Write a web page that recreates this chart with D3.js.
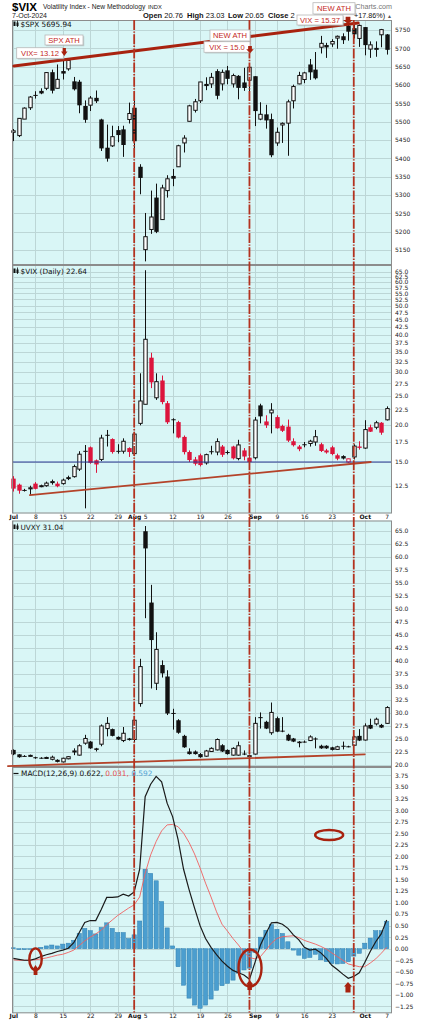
<!DOCTYPE html>
<html><head><meta charset="utf-8">
<script src="https://cdn.jsdelivr.net/npm/d3@7/dist/d3.min.js"></script>
<style>html,body{margin:0;padding:0;background:#fff;}svg{display:block;}</style>
</head><body>
<svg id="chart" width="422" height="1024"></svg>
<script>
// ---------------- DATA ----------------
const dates = ["2024-07-01","2024-07-02","2024-07-03","2024-07-05","2024-07-08","2024-07-09","2024-07-10","2024-07-11","2024-07-12","2024-07-15","2024-07-16","2024-07-17","2024-07-18","2024-07-19","2024-07-22","2024-07-23","2024-07-24","2024-07-25","2024-07-26","2024-07-29","2024-07-30","2024-07-31",
"2024-08-01","2024-08-02","2024-08-05","2024-08-06","2024-08-07","2024-08-08","2024-08-09","2024-08-12","2024-08-13","2024-08-14","2024-08-15","2024-08-16","2024-08-19","2024-08-20","2024-08-21","2024-08-22","2024-08-23","2024-08-26","2024-08-27","2024-08-28","2024-08-29","2024-08-30",
"2024-09-03","2024-09-04","2024-09-05","2024-09-06","2024-09-09","2024-09-10","2024-09-11","2024-09-12","2024-09-13","2024-09-16","2024-09-17","2024-09-18","2024-09-19","2024-09-20","2024-09-23","2024-09-24","2024-09-25","2024-09-26","2024-09-27","2024-09-30",
"2024-10-01","2024-10-02","2024-10-03","2024-10-04","2024-10-07"];

const spxOpen = [5471,5462,5507,5538,5573,5584,5591,5635,5591,5638,5644,5610,5609,5543,5545,5565,5506,5429,5434,5477,5479,5506,
5538,5377,5151,5206,5293,5233,5312,5352,5377,5442,5501,5531,5557,5603,5603,5638,5603,5640,5603,5625,5607,5613,
5624,5507,5520,5507,5442,5491,5496,5557,5603,5615,5656,5642,5703,5709,5712,5728,5733,5762,5755,5727,
5758,5698,5699,5737,5738];
const spxHigh = [5480,5510,5539,5570,5583,5591,5635,5642,5656,5667,5670,5622,5614,5558,5570,5585,5508,5492,5489,5488,5489,5552,
5566,5384,5251,5312,5331,5328,5354,5371,5437,5463,5546,5562,5608,5621,5633,5643,5642,5652,5631,5627,5647,5651,
5624,5553,5546,5522,5484,5498,5560,5601,5636,5636,5671,5690,5734,5715,5725,5735,5741,5767,5764,5765,
5758,5719,5719,5753,5739];
const spxLow = [5447,5458,5507,5532,5563,5575,5586,5577,5590,5615,5639,5585,5523,5497,5529,5551,5420,5391,5431,5444,5404,5495,
5410,5302,5119,5194,5196,5232,5293,5324,5377,5416,5501,5525,5551,5586,5592,5561,5585,5602,5593,5561,5584,5582,
5488,5504,5481,5403,5434,5442,5407,5536,5602,5605,5614,5615,5686,5674,5704,5699,5712,5721,5727,5704,
5681,5674,5677,5703,5683];
const spxClose = [5475.1,5509.0,5537.0,5567.2,5572.9,5577.0,5633.9,5584.5,5615.4,5631.2,5667.2,5588.3,5544.6,5505.0,5564.4,5555.7,5427.1,5399.2,5459.1,5463.5,5436.4,5522.3,
5446.7,5346.6,5186.3,5240.0,5199.5,5319.3,5344.2,5344.4,5434.4,5455.2,5543.2,5554.3,5608.3,5597.1,5620.9,5570.6,5634.6,5616.8,5625.8,5592.2,5592.0,5648.4,
5528.9,5520.1,5503.4,5408.4,5471.1,5495.5,5554.1,5595.8,5626.0,5633.1,5634.6,5618.3,5713.6,5702.6,5718.6,5732.9,5722.3,5745.4,5738.2,5762.5,
5708.8,5709.5,5699.9,5751.1,5695.9];

const vixOpen = [13.2,12.6,12.1,12.2,12.7,12.45,12.5,12.85,12.7,12.7,13.35,13.4,14.2,16.35,16.8,15.2,15.3,18.5,17.9,16.35,16.3,16.7,
16.0,20.2,23.4,33.5,24.6,28.1,23.6,20.85,20.4,18.2,16.2,15.3,15.8,14.9,16.3,16.2,16.9,16.2,16.9,15.4,16.4,15.5,
15.5,23.2,20.5,21.9,21.2,19.8,19.7,17.6,16.9,17.2,17.3,17.5,17.2,16.4,16.8,15.8,15.7,15.0,15.6,16.9,
16.7,19.6,19.6,20.3,20.76];
const vixHigh = [13.45,12.7,12.2,12.5,12.85,12.6,12.9,13.1,12.9,13.2,13.5,14.7,16.3,17.1,16.9,15.3,18.5,19.2,18.0,17.2,18.0,16.8,
18.9,29.7,65.7,34.8,29.7,29.2,24.0,21.0,20.6,18.4,16.4,15.6,16.0,16.0,17.0,18.0,17.1,16.4,17.0,17.8,16.7,16.0,
21.2,23.5,21.5,23.6,21.5,20.0,20.8,18.0,17.1,17.5,17.8,19.2,17.4,16.6,17.0,16.0,15.8,15.4,17.2,17.6,
20.7,20.0,20.6,20.4,23.03];
const vixLow = [11.95,11.75,11.95,11.65,12.15,12.35,12.4,12.6,12.35,12.6,13.05,13.3,14.0,10.5,14.8,13.8,15.1,16.9,16.0,16.0,16.0,15.6,
15.8,19.9,23.4,26.5,24.2,23.4,20.1,18.7,18.0,15.9,15.0,14.6,14.5,14.7,15.9,15.8,15.6,15.9,15.3,15.2,15.2,14.9,
15.3,20.2,19.5,18.7,19.4,18.9,17.5,16.9,16.3,16.8,16.9,17.0,16.2,16.0,15.8,15.2,15.3,14.9,15.3,16.5,
16.6,18.9,19.3,18.5,20.65];
const vixClose = [12.22,12.03,12.05,12.3,12.2,12.5,12.75,12.9,12.45,13.05,13.15,14.48,15.93,16.3,14.91,14.72,18.04,18.46,16.2,16.3,17.6,16.2,
18.6,24.0,38.6,27.7,27.85,23.8,20.37,20.71,18.12,16.19,15.23,14.8,14.65,15.88,16.27,17.55,15.86,16.15,15.43,17.11,15.65,15.0,
20.72,21.32,19.9,22.38,19.45,19.08,17.69,17.07,16.56,17.14,17.61,18.23,16.33,16.15,15.95,15.39,15.41,15.37,16.96,16.73,
19.26,18.95,20.3,18.8,22.64];

const uvxyOpen = [22.9,22.05,21.75,21.8,21.5,21.4,21.35,21.1,21.0,20.6,21.2,22.6,21.9,24.2,24.5,23.2,24.0,27.0,26.9,25.4,24.7,25.1,
24.9,31.8,64.9,51.2,35.7,39.2,37.0,30.0,28.6,25.6,22.6,22.6,22.1,21.7,22.6,22.9,23.8,22.9,21.9,21.9,22.2,21.9,
22.1,29.2,28.3,26.2,29.0,26.6,25.8,25.1,24.5,24.5,24.7,25.1,23.7,23.7,23.4,23.0,23.7,23.6,23.8,25.6,
24.8,27.7,27.9,27.7,28.0];
const uvxyHigh = [23.0,22.1,21.9,22.0,21.6,21.5,21.6,21.8,21.1,21.4,21.7,23.2,24.0,25.8,24.6,23.3,27.8,29.2,27.0,25.5,27.3,25.2,
29.0,40.4,65.9,54.6,45.5,40.1,38.2,30.8,28.8,25.8,23.2,22.8,22.3,22.9,23.4,25.1,24.0,23.0,23.4,24.5,22.8,22.0,
29.2,30.1,28.5,32.0,29.3,29.2,26.0,25.2,24.6,24.7,25.7,25.3,23.9,23.8,23.5,23.7,24.5,23.7,25.6,26.9,
28.0,28.9,29.1,27.9,31.3];
const uvxyLow = [21.9,21.4,21.6,21.6,21.2,21.2,21.2,20.9,20.5,20.5,21.1,21.9,21.8,23.9,23.1,22.6,23.6,25.5,25.5,24.8,24.4,24.7,
24.4,31.2,48.2,34.7,34.4,36.8,29.6,26.8,26.0,23.3,22.0,22.0,21.4,21.6,22.5,22.8,22.5,22.0,21.8,21.8,21.9,21.4,
22.0,27.0,26.9,25.8,26.3,26.3,24.6,24.4,23.4,24.3,24.6,23.2,23.1,23.1,22.8,22.9,23.0,23.4,23.7,24.6,
24.7,26.9,27.6,27.1,27.9];
const uvxyClose = [22.05,21.5,21.7,21.85,21.3,21.35,21.45,21.5,20.6,21.3,21.6,22.7,23.7,25.1,23.2,22.9,27.5,28.0,25.6,24.9,26.1,24.8,
28.6,38.9,61.6,44.0,42.2,37.6,29.9,29.85,26.2,23.4,22.1,22.1,21.5,22.7,23.2,24.9,22.6,22.1,23.2,23.7,22.2,21.5,
28.0,29.0,27.0,30.1,26.4,26.45,24.7,24.5,24.2,24.45,25.4,25.05,23.2,23.2,22.9,23.5,23.65,23.55,25.4,24.7,
27.5,27.0,28.8,27.2,31.04];

const macdLine = [-0.21,-0.23,-0.25,-0.25,-0.22,-0.17,-0.13,-0.10,-0.06,-0.03,0.01,0.13,0.35,0.57,0.61,0.61,0.85,1.11,1.11,1.12,1.18,1.14,1.23,
1.72,3.29,3.56,3.73,3.61,3.15,2.86,2.36,1.72,1.28,0.88,0.50,0.22,0.03,-0.13,-0.27,-0.38,-0.47,-0.52,-0.57,-0.66,
-0.30,0.08,0.33,0.56,0.57,0.53,0.44,0.30,0.19,0.03,-0.03,-0.01,-0.09,-0.21,-0.36,-0.45,-0.55,-0.64,-0.60,-0.52,-0.30,-0.06,0.15,0.32,0.62];
const macdSignal = [-0.24,-0.25,-0.25,-0.25,-0.24,-0.22,-0.20,-0.17,-0.14,-0.12,-0.08,-0.03,0.07,0.17,0.25,0.32,0.40,0.52,0.62,0.72,0.80,0.88,0.95,
1.12,1.63,2.03,2.32,2.55,2.68,2.69,2.64,2.50,2.30,2.05,1.75,1.42,1.12,0.80,0.53,0.38,0.22,0.08,-0.08,-0.19,
-0.22,-0.17,-0.03,0.12,0.22,0.26,0.27,0.28,0.24,0.18,0.14,0.10,0.05,-0.01,-0.09,-0.17,-0.25,-0.33,-0.36,-0.39,-0.39,-0.31,-0.22,-0.10,0.03];
const macdHist = [0.02,-0.02,-0.02,0.00,0.01,0.03,0.06,0.08,0.06,0.10,0.12,0.18,0.33,0.44,0.39,0.32,0.46,0.56,0.44,0.35,0.35,0.22,0.30,
0.60,1.72,1.63,1.47,1.02,0.45,0.06,-0.39,-0.79,-1.07,-1.22,-1.29,-1.22,-1.09,-0.90,-0.80,-0.75,-0.68,-0.53,-0.46,-0.42,
-0.08,0.25,0.40,0.52,0.42,0.33,0.15,-0.03,-0.14,-0.21,-0.19,-0.12,-0.24,-0.28,-0.32,-0.33,-0.32,-0.28,-0.16,-0.10,0.12,0.23,0.39,0.39,0.59];

const spxTicks = [5150,5200,5250,5300,5350,5400,5450,5500,5550,5600,5650,5700,5750];
const vixTicks = [12.5,15,17.5,20,22.5,25,27.5,30,32.5,35,37.5,40,42.5,45,47.5,50,52.5,55,57.5,60,62.5,65];
const uvxyTicks = [20,22.5,25,27.5,30,32.5,35,37.5,40,42.5,45,47.5,50,52.5,55,57.5,60,62.5,65];
const macdTicks = [-1.25,-1,-0.75,-0.5,-0.25,0,0.25,0.5,0.75,1,1.25,1.5,1.75,2,2.25,2.5,2.75,3,3.25,3.5,3.75];

const dateTickIdx = [0,4,9,14,19,22,24,29,34,39,44,48,53,58,64,68];
const dateTickLabels = ["Jul","8","15","22","29","Aug","5","12","19","26","Sep","9","16","23","Oct","7"];
const monthTickIdx = [0,22,44,64];
const gridIdx = [0,4,9,14,19,22,29,34,39,44,48,53,58,64];
const markerIdx = [22,43,62];   // Aug 1, Aug 30, Sep 27

// trend lines / levels (index, value)
const spxTrend = [[0.1,5652],[62.8,5769]];
const vixTrend = [[3.0,11.63],[65.1,15.0]];
const uvxyTrend = [[-1.0,19.8],[64.0,22.05]];
const vixLevel = 15.0;

// ---------------- LAYOUT ----------------
const svg = d3.select('#chart');
const L = 12, R = 392;
const BG = '#d9f6f6', GRID = '#bcd6d6', FRAME = '#8c8c8c';
const RED = '#dc143c', DARKRED = '#a8220f';
const SANS = 'Liberation Sans, Arial, sans-serif', DV = 'DejaVu Sans, Verdana, sans-serif';

const xi = d3.scaleLinear().domain([0, dates.length-1]).range([13.4, 386.7]);

const P = {
  spx:  {top:20,    bottom:265,    y:d3.scaleLinear().domain([5109.1,5777.3]).range([265,20])},
  vix:  {top:265,   bottom:513.5,  y:d3.scaleLog().domain([10.09,68.4]).range([513.5,265])},
  uvxy: {top:520.5, bottom:767,    y:d3.scaleLinear().domain([19.62,66.96]).range([767,520.5])},
  macd: {top:767,   bottom:1013.3, y:d3.scaleLinear().domain([-1.398,3.933]).range([1013.3,767])}
};

function drawPanel(p, ticks, fmt){
  const g = svg.append('g');
  g.append('rect').attr('x',L).attr('y',p.top).attr('width',R-L).attr('height',p.bottom-p.top).attr('fill',BG);
  g.append('g').selectAll('line').data(ticks).join('line')
    .attr('x1',L).attr('x2',R).attr('y1',d=>Math.round(p.y(d))+0.5).attr('y2',d=>Math.round(p.y(d))+0.5)
    .attr('stroke',GRID).attr('stroke-width',1);
  g.append('g').selectAll('line').data(gridIdx).join('line')
    .attr('x1',d=>Math.round(xi(d))+0.5).attr('x2',d=>Math.round(xi(d))+0.5).attr('y1',p.top).attr('y2',p.bottom)
    .attr('stroke',GRID).attr('stroke-width',1);
  const ax = d3.axisRight(p.y).tickValues(ticks).tickFormat(fmt).tickSize(0).tickPadding(3);
  const ag = g.append('g').attr('transform',`translate(${R},0)`).call(ax);
  ag.select('.domain').remove();
  ag.selectAll('text').attr('font-family',DV).attr('font-size',6).attr('fill','#222');
  return g;
}
function frame(p){
  svg.append('rect').attr('x',L+0.5).attr('y',p.top+0.5).attr('width',R-L-1).attr('height',p.bottom-p.top-1)
    .attr('fill','none').attr('stroke',FRAME).attr('stroke-width',1);
}

function candles(g, y, O, H, Lo, C, colorFn, bw){
  const idx = d3.range(dates.length);
  const cg = g.append('g');
  cg.selectAll('line').data(idx).join('line')
    .attr('x1',i=>Math.round(xi(i))+0.5).attr('x2',i=>Math.round(xi(i))+0.5)
    .attr('y1',i=>y(H[i])).attr('y2',i=>y(Lo[i]))
    .attr('stroke',i=>colorFn(i)).attr('stroke-width',1);
  cg.selectAll('rect').data(idx).join('rect')
    .each(function(i){
      const cx = Math.round(xi(i))+0.5;
      const top = y(Math.max(O[i],C[i])), bot = y(Math.min(O[i],C[i]));
      const hollow = C[i] > O[i];
      const h = Math.max(bot-top, 1);
      const s = d3.select(this);
      if(hollow){
        s.attr('x',cx-bw/2+0.5).attr('width',bw-1).attr('y',top).attr('height',h)
         .attr('fill','#fff').attr('stroke',colorFn(i)).attr('stroke-width',1);
      } else {
        s.attr('x',cx-bw/2).attr('width',bw).attr('y',top).attr('height',h)
         .attr('fill',colorFn(i)).attr('stroke','none');
      }
    });
}

// ---------------- HEADER ----------------
const hdr = svg.append('g');
hdr.append('text').attr('x',12).attr('y',10.5).attr('font-family',SANS).attr('font-weight','bold').attr('font-size',11.5).text('$VIX');
hdr.append('text').attr('x',43).attr('y',9).attr('font-family',SANS).attr('font-size',6.7).attr('fill','#222').text('Volatility Index - New Methodology');
hdr.append('text').attr('x',148).attr('y',9).attr('font-family',SANS).attr('font-size',5.8).attr('fill','#222').text('INDX');
hdr.append('text').attr('x',392).attr('y',9).attr('text-anchor','end').attr('font-family',SANS).attr('font-size',7.2).attr('fill','#777').text('Charts.com');
hdr.append('text').attr('x',12).attr('y',18).attr('font-family',SANS).attr('font-size',7).attr('fill','#222').text('7-Oct-2024');
const ohlcItems = [['Open','20.76',143],['High','23.03',187],['Low','20.65',228],['Close','2',268]];
ohlcItems.forEach(([k,v,x])=>{
  const t = hdr.append('text').attr('x',x).attr('y',18).attr('font-family',SANS).attr('font-size',7.5).attr('fill','#111');
  t.append('tspan').attr('font-weight','bold').text(k);
  t.append('tspan').text(' '+v);
});
const chg = hdr.append('text').attr('x',392).attr('y',18).attr('text-anchor','end').attr('font-family',SANS).attr('font-size',7.2).attr('fill','#111');
chg.append('tspan').text('+17.86%) ');
chg.append('tspan').attr('font-size',5).attr('fill','#555').text('▲');

// ---------------- PANELS ----------------
const fmt1 = d3.format('.1f'), fmt2 = d3.format('.2f');
const gS = drawPanel(P.spx, spxTicks, d3.format('d'));
const gV = drawPanel(P.vix, vixTicks, fmt1);
const gU = drawPanel(P.uvxy, uvxyTicks, fmt1);
const gM = drawPanel(P.macd, macdTicks, fmt2);

// SPX candles (all black)
candles(gS, P.spx.y, spxOpen, spxHigh, spxLow, spxClose, ()=> '#111', 4.4);

// VIX candles: red when close < previous close
candles(gV, P.vix.y, vixOpen, vixHigh, vixLow, vixClose, i => (i>0 && vixClose[i] < vixClose[i-1]) || (i===0) ? RED : '#111', 4.4);

// UVXY candles (all black)
candles(gU, P.uvxy.y, uvxyOpen, uvxyHigh, uvxyLow, uvxyClose, ()=> '#111', 4.4);

// MACD histogram
const y0 = P.macd.y(0);
gM.append('g').selectAll('rect').data(macdHist).join('rect')
  .attr('x',(d,i)=>xi(i)-2.1).attr('width',4.2)
  .attr('y',d=>Math.min(P.macd.y(d),y0)).attr('height',d=>Math.max(Math.abs(P.macd.y(d)-y0),0.6))
  .attr('fill','#4b9ecf').attr('stroke','#2f7fb0').attr('stroke-width',0.5);
const lineGen = d3.line().x((d,i)=>xi(i)).y(d=>P.macd.y(d));
gM.append('path').datum(macdSignal).attr('d',lineGen).attr('fill','none').attr('stroke','#f06060').attr('stroke-width',0.9);
gM.append('path').datum(macdLine).attr('d',lineGen).attr('fill','none').attr('stroke','#1a1a1a').attr('stroke-width',1.2);

// frames
[P.spx,P.vix,P.uvxy,P.macd].forEach(frame);

// VIX level line and trend lines
gV.append('line').attr('x1',L).attr('x2',R).attr('y1',P.vix.y(vixLevel)).attr('y2',P.vix.y(vixLevel))
  .attr('stroke','#2a3896').attr('stroke-width',1);
function trend(pts, y, col, w){
  svg.append('line').attr('x1',xi(pts[0][0])).attr('y1',y(pts[0][1])).attr('x2',xi(pts[1][0])).attr('y2',y(pts[1][1]))
    .attr('stroke',col).attr('stroke-width',w).attr('stroke-linecap','round');
}
trend(spxTrend, P.spx.y, DARKRED, 3);
trend(vixTrend, P.vix.y, '#b4432a', 1.8);
trend(uvxyTrend, P.uvxy.y, '#b4432a', 1.8);

// date axes
function dateAxis(yPos){
  const ax = d3.axisBottom(xi).tickValues(dateTickIdx).tickFormat((d,k)=>dateTickLabels[k]).tickSize(0).tickPadding(0);
  const g = svg.append('g').attr('transform',`translate(0,${yPos})`).call(ax);
  g.select('.domain').remove();
  g.selectAll('text').attr('font-family',DV).attr('font-size',6).attr('fill','#111').attr('dy','0.71em')
    .attr('font-weight',d=>monthTickIdx.includes(d)?'bold':'normal');
}
dateAxis(514.3);
dateAxis(1014.2);

// red dash-dot vertical markers
svg.append('g').selectAll('line').data(markerIdx).join('line')
  .attr('x1',d=>xi(d)).attr('x2',d=>xi(d)).attr('y1',20).attr('y2',1013.3)
  .attr('stroke','#b3321f').attr('stroke-width',1.8).attr('stroke-dasharray','10,1.4,1.4,1.4');

// ---------------- LEGENDS ----------------
function candleIcon(x,y){
  svg.append('rect').attr('x',x).attr('y',y).attr('width',2).attr('height',4.5).attr('fill','#111');
  svg.append('rect').attr('x',x+3).attr('y',y+1).attr('width',2).attr('height',3.5).attr('fill','#111');
  svg.append('line').attr('x1',x+4).attr('x2',x+4).attr('y1',y-1).attr('y2',y+5.5).attr('stroke','#111').attr('stroke-width',0.8);
}
candleIcon(13.5,21.5);
svg.append('text').attr('x',20.5).attr('y',26.5).attr('font-family',DV).attr('font-size',7.3).attr('fill','#111').text('$SPX 5695.94');
candleIcon(13.5,268.5);
svg.append('text').attr('x',20.5).attr('y',273.5).attr('font-family',DV).attr('font-size',7.3).attr('fill','#111').text('$VIX (Daily) 22.64');
candleIcon(13.5,524.5);
svg.append('text').attr('x',20.5).attr('y',529.5).attr('font-family',DV).attr('font-size',7.3).attr('fill','#111').text('UVXY 31.04');
svg.append('line').attr('x1',13.5).attr('x2',18.5).attr('y1',773.5).attr('y2',773.5).attr('stroke','#111').attr('stroke-width',1.2);
const ml = svg.append('text').attr('x',21).attr('y',776).attr('font-family',DV).attr('font-size',7.4).attr('fill','#111');
ml.append('tspan').text('MACD(12,26,9) 0.622, ');
ml.append('tspan').attr('fill','#e85050').text('0.031, ');
ml.append('tspan').attr('fill','#5aa7d6').text('0.592');

// ---------------- ANNOTATIONS ----------------
const ys = P.spx.y, ym = P.macd.y;
function downArrow(idx, vTop, vTip, w){
  const x = xi(idx), t = ys(vTop), b = ys(vTip), hh = Math.min(4.5,(b-t)*0.55);
  svg.append('path').attr('d',`M${x-w*0.25},${t} L${x+w*0.25},${t} L${x+w*0.25},${b-hh} L${x+w/2},${b-hh} L${x},${b} L${x-w/2},${b-hh} L${x-w*0.25},${b-hh} Z`).attr('fill',DARKRED);
}
function upArrow(idx, vTip, vBot, w){
  const x = xi(idx), t = ym(vTip), b = ym(vBot), hh = Math.min(4.5,(b-t)*0.45);
  svg.append('path').attr('d',`M${x},${t} L${x+w/2},${t+hh} L${x+w*0.32},${t+hh} L${x+w*0.32},${b} L${x-w*0.32},${b} L${x-w*0.32},${t+hh} L${x-w/2},${t+hh} Z`).attr('fill',DARKRED);
}
function callout(idx, v, w, h, label){
  const x = xi(idx), y = ys(v);
  svg.append('rect').attr('x',x+1.2).attr('y',y+1.2).attr('width',w).attr('height',h).attr('fill','#999').attr('opacity',0.45);
  svg.append('rect').attr('x',x).attr('y',y).attr('width',w).attr('height',h).attr('fill','#fff').attr('stroke','#b8b8b8').attr('stroke-width',0.8);
  svg.append('text').attr('x',x+w/2).attr('y',y+h/2+2.7).attr('text-anchor','middle').attr('font-family',SANS).attr('font-size',7.6).attr('fill','#c4281c').text(label);
}
callout(5.76, 5736.4, 38, 10, 'SPX ATH');
callout(0.6, 5701.7, 46.6, 10.6, 'VIX= 13.12');
callout(35.81, 5750, 40, 11, 'NEW ATH');
callout(34.72, 5718.1, 46, 10.6, 'VIX = 15.0');
callout(54.57, 5824.5, 42, 11.3, 'NEW ATH');
callout(51.66, 5790.9, 46, 10, 'VIX = 15.37');
downArrow(9.27, 5701, 5679, 6.5);
downArrow(43.1, 5706.4, 5686.5, 7.5);
downArrow(60.95, 5786, 5766.4, 9.5);

// MACD ellipses and arrows
function ell(idx, v, rx, ry){
  svg.append('ellipse').attr('cx',xi(idx)).attr('cy',ym(v)).attr('rx',rx).attr('ry',ry)
    .attr('fill','none').attr('stroke','#a8220f').attr('stroke-width',2.4);
}
ell(4.03, -0.227, 6.2, 10.8);
ell(43.1, -0.418, 11.5, 18.5);
ell(57.52, 2.461, 14, 5);
upArrow(4.03, -0.353, -0.569, 6);
upArrow(43.04, -0.677, -0.894, 7);
upArrow(60.95, -0.721, -0.948, 8);
</script>
</body></html>
